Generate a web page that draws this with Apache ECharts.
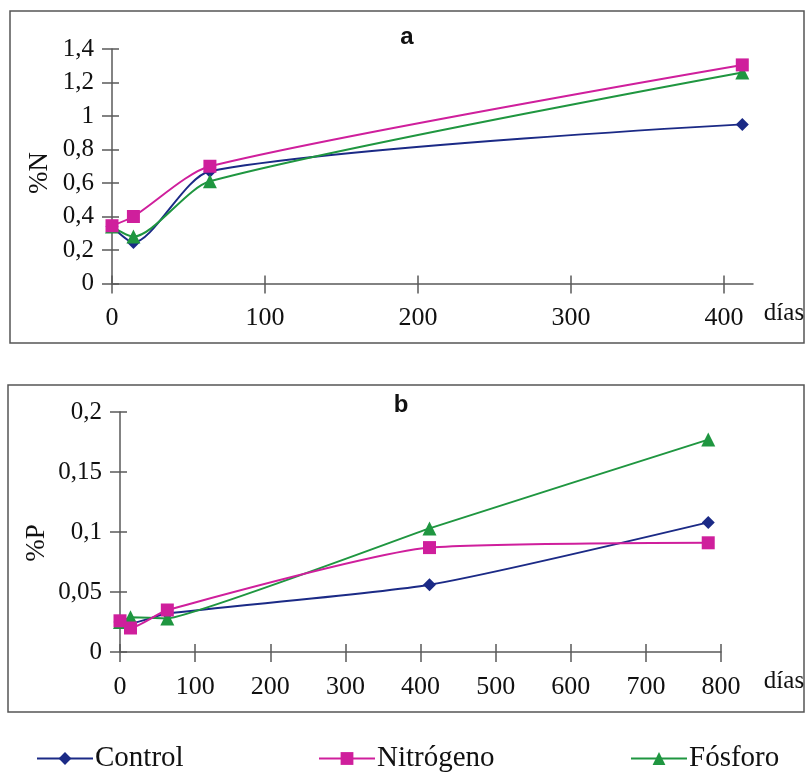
<!DOCTYPE html>
<html>
<head>
<meta charset="utf-8">
<script src="https://cdn.jsdelivr.net/npm/echarts@6/dist/echarts.min.js"></script>
<style>html,body{margin:0;padding:0;background:#fff}#c{width:809px;height:780px}</style>
</head>
<body>
<div id="c"></div>
<script>
// ---- data ----
const seriesNames = ['Control', 'Nitrógeno', 'Fósforo'];
const diasA = [0, 14, 64, 412];
const controlN = [0.34, 0.245, 0.67, 0.95];
const nitrogenoN = [0.345, 0.40, 0.70, 1.305];
const fosforoN = [0.34, 0.28, 0.61, 1.26];
const diasB = [0, 14, 63, 412, 783];
const controlP = [0.025, 0.024, 0.032, 0.056, 0.108];
const nitrogenoP = [0.026, 0.020, 0.035, 0.087, 0.091];
const fosforoP = [0.025, 0.029, 0.028, 0.103, 0.177];
const xTicksA = [0, 100, 200, 300, 400];
const xTicksB = [0, 100, 200, 300, 400, 500, 600, 700, 800];

const colors = { 'Control': '#1b2a86', 'Nitrógeno': '#cf1f9c', 'Fósforo': '#1f9640' };
const symbols = { 'Control': 'diamond', 'Nitrógeno': 'rect', 'Fósforo': 'triangle' };
const serif = 'Liberation Serif';
const axisCol = '#5a5a5a';

function pairs(xs, ys) { return xs.map((x, i) => [x, ys[i]]); }
function fmt(v) { return String(+(+v).toFixed(3)).replace('.', ','); }

function xAx(grid, max, ticks, main) {
  return {
    type: 'value', gridIndex: grid, min: 0, max: max, interval: 100,
    position: 'bottom', offset: 0,
    axisLine: { show: true, onZero: false, lineStyle: { color: axisCol, width: 1.5, opacity: main ? 1 : 0 } },
    axisTick: { show: true, inside: !main, length: main ? 10 : 8, customValues: ticks,
                lineStyle: { color: axisCol, width: 1.5, opacity: 1 } },
    axisLabel: { show: main, customValues: ticks, margin: 22, color: '#111',
                 fontFamily: serif, fontSize: 26,
                 formatter: v => (v % 100 === 0 ? String(v) : '') },
    splitLine: { show: false }
  };
}
function yAx(grid, max, interval, main) {
  return {
    type: 'value', gridIndex: grid, min: 0, max: max, interval: interval,
    position: 'left', offset: 0,
    axisLine: { show: true, onZero: false, lineStyle: { color: axisCol, width: 1.5, opacity: main ? 1 : 0 } },
    axisTick: { show: true, inside: !main, length: main ? 10 : 7,
                lineStyle: { color: axisCol, width: 1.5, opacity: 1 } },
    axisLabel: { show: main, margin: 18, color: '#111', fontFamily: serif, fontSize: 25,
                 formatter: fmt },
    splitLine: { show: false }
  };
}
function line(name, data, xi, yi, z, smooth) {
  return {
    name: name, type: 'line', xAxisIndex: xi, yAxisIndex: yi, data: data,
    smooth: smooth, symbol: symbols[name], symbolSize: name === 'Fósforo' ? 14 : 13,
    z: z,
    lineStyle: { color: colors[name], width: 2 },
    itemStyle: { color: colors[name] }
  };
}

const chart = echarts.init(document.getElementById('c'), null, { renderer: 'canvas' });
chart.setOption({
  animation: false,
  backgroundColor: '#fff',
  grid: [
    { left: 112, top: 49, width: 641, height: 234.5 },
    { left: 120, top: 412, width: 601, height: 240 }
  ],
  xAxis: [
    xAx(0, 419, xTicksA, true),
    xAx(1, 800, xTicksB, true),
    xAx(0, 419, xTicksA, false),
    xAx(1, 800, xTicksB, false)
  ],
  yAxis: [
    yAx(0, 1.4, 0.2, true),
    yAx(1, 0.2, 0.05, true),
    yAx(0, 1.4, 0.2, false),
    yAx(1, 0.2, 0.05, false)
  ],
  legend: [
    { data: ['Control'], left: 31, top: 739 },
    { data: ['Nitrógeno'], left: 313, top: 739 },
    { data: ['Fósforo'], left: 625, top: 739 }
  ].map(l => Object.assign(l, {
    itemWidth: 56, itemHeight: 16, itemGap: 8, selectedMode: false,
    textStyle: { fontFamily: serif, fontSize: 29, color: '#111', padding: [0, 0, 0, -3] }
  })),
  graphic: [
    { type: 'rect', shape: { x: 10, y: 11, width: 794, height: 332 },
      style: { fill: 'none', stroke: '#555', lineWidth: 1.5 }, silent: true },
    { type: 'rect', shape: { x: 8, y: 385, width: 796, height: 327 },
      style: { fill: 'none', stroke: '#555', lineWidth: 1.5 }, silent: true },
    { type: 'text', x: 407, y: 37, style: { text: 'a', font: 'bold 24px "Liberation Sans"',
      fill: '#111', align: 'center', verticalAlign: 'middle' } },
    { type: 'text', x: 401, y: 405, style: { text: 'b', font: 'bold 24px "Liberation Sans"',
      fill: '#111', align: 'center', verticalAlign: 'middle' } },
    { type: 'text', x: 40, y: 173, rotation: Math.PI / 2, style: { text: '%N',
      font: '27px "Liberation Serif"', fill: '#111', align: 'center', verticalAlign: 'middle' } },
    { type: 'text', x: 37, y: 543, rotation: Math.PI / 2, style: { text: '%P',
      font: '27px "Liberation Serif"', fill: '#111', align: 'center', verticalAlign: 'middle' } },
    { type: 'text', x: 784, y: 313, style: { text: 'días', font: '25px "Liberation Serif"',
      fill: '#111', align: 'center', verticalAlign: 'middle' } },
    { type: 'text', x: 784, y: 681, style: { text: 'días', font: '25px "Liberation Serif"',
      fill: '#111', align: 'center', verticalAlign: 'middle' } }
  ],
  series: [
    line('Control', pairs(diasA, controlN), 0, 0, 2, 0.25),
    line('Fósforo', pairs(diasA, fosforoN), 0, 0, 3, 0.25),
    line('Nitrógeno', pairs(diasA, nitrogenoN), 0, 0, 4, 0.25),
    line('Control', pairs(diasB, controlP), 1, 1, 2, 0.2),
    line('Fósforo', pairs(diasB, fosforoP), 1, 1, 3, 0.08),
    line('Nitrógeno', pairs(diasB, nitrogenoP), 1, 1, 4, 0.2)
  ]
});
</script>
</body>
</html>
